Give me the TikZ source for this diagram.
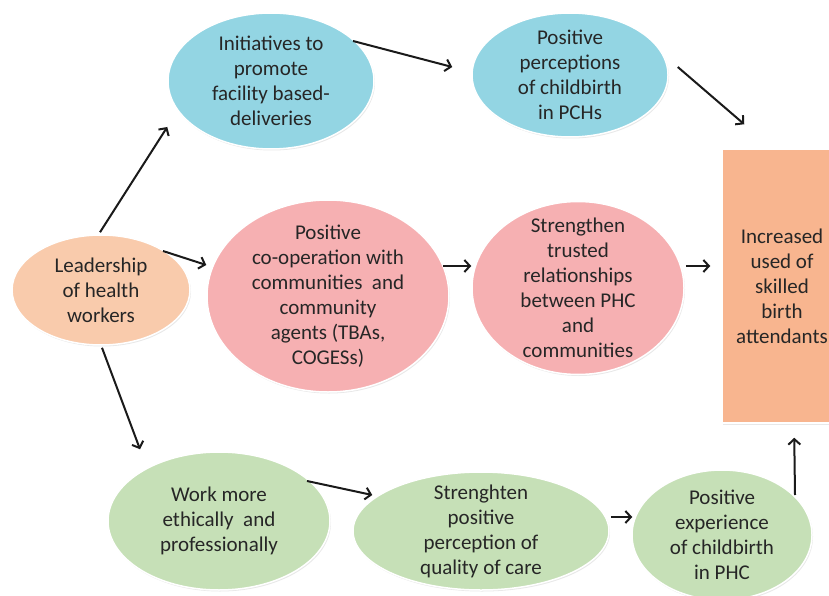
\documentclass[tikz,border=0pt]{standalone}
\usepackage{fontspec}
\setmainfont{Carlito}
\usetikzlibrary{arrows.meta,calc,shapes.geometric,shadows}
\definecolor{cblue}{HTML}{93D5E3}
\definecolor{cpink}{HTML}{F6B0B2}
\definecolor{cpeach}{HTML}{F9CBAC}
\definecolor{corange}{HTML}{F8B58F}
\definecolor{cgreen}{HTML}{C6E0B7}
\definecolor{txt}{HTML}{262626}
\definecolor{arrc}{HTML}{1A1A1A}
\begin{document}
\begin{tikzpicture}[x=1pt,y=-1pt,
  lbl/.style={font=\fontsize{21}{25}\selectfont, text=txt, align=center, inner sep=0pt},
  bub/.style={ellipse, draw=white, line width=1.5pt, inner sep=0pt,
    drop shadow={opacity=0.18, shadow xshift=1pt, shadow yshift=-1.5pt}},
  arr/.style={-{Straight Barb[length=5.5pt,width=12pt,line width=2pt]}, line width=2pt, draw=arrc}]
\useasboundingbox (0,0) rectangle (829,596);
\clip (0,0) rectangle (829,596);
\fill[white] (0,0) rectangle (829,596);

\node[bub, fill=cpeach, minimum width=178pt, minimum height=110pt] (lead) at (101,290) {};
\node[bub, fill=cblue, minimum width=206pt, minimum height=136pt] (init) at (271,81) {};
\node[bub, fill=cblue, minimum width=196pt, minimum height=124pt] (perc) at (570,75) {};
\node[bub, fill=cpink, minimum width=242pt, minimum height=192pt] (coop) at (328,296) {};
\node[bub, fill=cpink, minimum width=212pt, minimum height=173pt] (trust) at (578,288) {};
\node[rectangle, draw=white, line width=1.5pt, fill=corange, minimum width=120pt, minimum height=274pt,
  drop shadow={opacity=0.18, shadow xshift=1pt, shadow yshift=-1.5pt}] (rect) at (782,286) {};
\node[bub, fill=cgreen, minimum width=222pt, minimum height=138pt] (work) at (219,521) {};
\node[bub, fill=cgreen, minimum width=256pt, minimum height=118pt] (streng) at (481,531) {};
\node[bub, fill=cgreen, minimum width=180pt, minimum height=130pt] (exp) at (722,535) {};

\node[lbl] (leadT) at (lead) {Leadership\\of health\\workers};
\node[lbl] (initT) at (init) {Initiatives to\\promote\\facility based-\\deliveries};
\node[lbl] (percT) at (perc) {Positive\\perceptions\\of childbirth\\in PCHs};
\node[lbl] (coopT) at (coop) {Positive\\co-operation with\\communities~ and\\community\\agents (TBAs,\\COGESs)};
\node[lbl] (trustT) at (trust) {Strengthen\\trusted\\relationships\\between PHC\\and\\communities};
\node[lbl] (rectT) at (rect) {Increased\\used of\\skilled\\birth\\attendants};
\node[lbl] (workT) at (work) {Work more\\ethically~ and\\professionally};
\node[lbl] (strengT) at (streng) {Strenghten\\positive\\perception of\\quality of care};
\node[lbl] (expT) at (exp) {Positive\\experience\\of childbirth\\in PHC};

\draw[arr] ($(lead.north)+(-1,-2)$) -- ($(init.west)+(0,46)$);
\draw[arr] ($(lead.center)+(62,-39)$) -- ($(coop.west)+(0,-31)$);
\draw[arr] ($(lead.south)+(1,2)$) -- ($(work.north)+(-79,-2)$);
\draw[arr] ($(init.center)+(82,-40)$) -- ($(perc.west)+(-19,-8)$);
\draw[arr] ($(perc.east)+(9,-8)$) -- ($(rect.north west)+(23,-24)$);
\draw[arr] ($(coop.east)+(-7,-30)$) -- ($(trust.west)+(0,-22)$);
\draw[arr] ($(trust.east)+(1,-22)$) -- ($(rect.west)+(-11,-20)$);
\draw[arr] ($(work.center)+(88,-40)$) -- ($(streng.west)+(20,-36)$);
\draw[arr] ($(streng.east)+(1,-14)$) -- ($(exp.west)+(1,-18)$);
\draw[arr] ($(exp.center)+(73,-40)$) -- ($(rect.south west)+(73,14)$);
\end{tikzpicture}
\end{document}
